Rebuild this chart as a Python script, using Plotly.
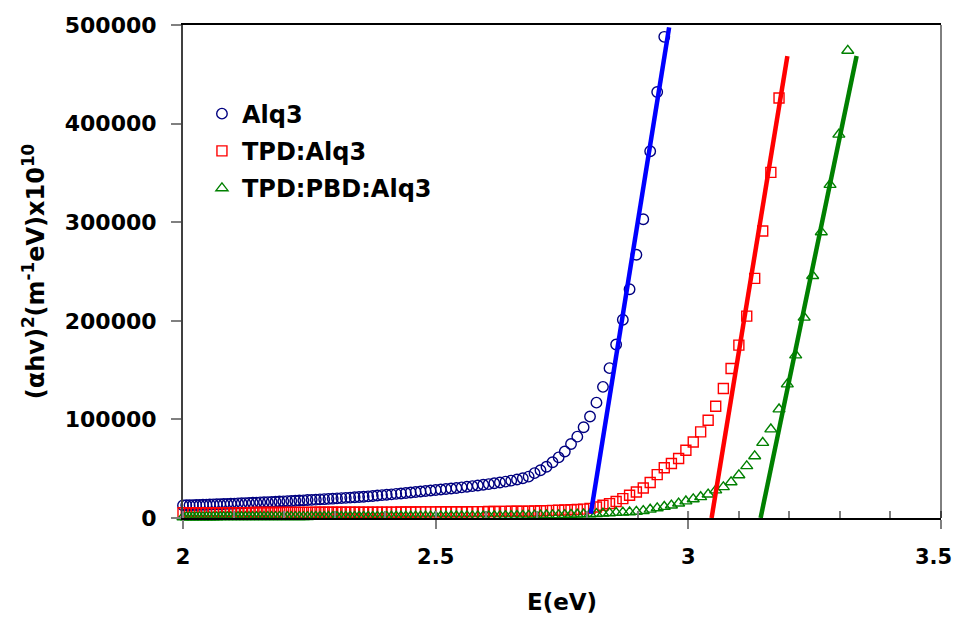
import plotly.graph_objects as go

# measurement grid: wavelength (nm), converted to photon energy E = 1240 / lambda
WAVELENGTH_NM = list(range(620, 372, -2))
ENERGY_EV = [1240.0 / w for w in WAVELENGTH_NM]

# (alpha h nu)^2 values, one per wavelength point
ALQ3 = [
    12800, 12900, 13000, 13100, 13200, 13300, 13400, 13500, 13700, 13800,
    13900, 14000, 14200, 14300, 14500, 14600, 14800, 14900, 15100, 15300,
    15400, 15600, 15800, 16000, 16100, 16300, 16500, 16700, 16900, 17100,
    17300, 17500, 17700, 17900, 18200, 18400, 18600, 18900, 19100, 19400,
    19600, 19900, 20200, 20400, 20700, 21000, 21300, 21600, 21900, 22300,
    22800, 23200, 23600, 24000, 24500, 24900, 25400, 25900, 26400, 26900,
    27400, 27900, 28400, 28900, 29400, 29900, 30500, 31100, 31700, 32300,
    33000, 33700, 34400, 35200, 36000, 36900, 37900, 39000, 40300, 42000,
    45500, 48500, 52000, 56500, 61500, 67500, 75000, 82500, 92000, 103000,
    117000, 133000, 152000, 176000, 201000, 232000, 267000, 303000, 372000, 432000,
    488000,
]
TPD_ALQ3 = [
    5300, 5300, 5300, 5300, 5300, 5400, 5400, 5400, 5400, 5400,
    5400, 5400, 5500, 5500, 5500, 5500, 5500, 5500, 5500, 5500,
    5600, 5600, 5600, 5600, 5600, 5600, 5600, 5600, 5700, 5700,
    5700, 5700, 5700, 5700, 5700, 5700, 5800, 5800, 5800, 5800,
    5800, 5800, 5800, 5800, 5900, 5900, 5900, 5900, 5900, 5900,
    6000, 6000, 6000, 6000, 6000, 6100, 6100, 6100, 6100, 6200,
    6200, 6200, 6200, 6300, 6300, 6300, 6400, 6400, 6400, 6500,
    6500, 6500, 6600, 6600, 6700, 6700, 6800, 6800, 6900, 7000,
    7100, 7300, 7500, 7700, 7900, 8100, 8300, 8600, 9000, 9800,
    11200, 12900, 14600, 16800, 19700, 23000, 26400, 30400, 36000, 44000,
    51000, 55200, 60300, 68700, 77100, 87300, 99100, 113400, 131300, 151600,
    175300, 204700, 243000, 291000, 350500, 426000,
]
TPD_PBD_ALQ3 = [
    900, 900, 900, 900, 900, 900, 950, 950, 950, 950,
    950, 1000, 1000, 1000, 1000, 1000, 1000, 1050, 1050, 1050,
    1050, 1050, 1100, 1100, 1100, 1100, 1100, 1150, 1150, 1150,
    1150, 1200, 1200, 1200, 1200, 1250, 1250, 1250, 1250, 1300,
    1300, 1300, 1300, 1350, 1350, 1350, 1400, 1400, 1400, 1400,
    1450, 1450, 1450, 1500, 1500, 1500, 1550, 1550, 1600, 1600,
    1600, 1650, 1650, 1700, 1700, 1750, 1750, 1800, 1850, 1850,
    1900, 1950, 2000, 2050, 2100, 2150, 2200, 2300, 2400, 2500,
    2600, 2700, 2800, 2900, 3000, 3200, 3400, 3600, 3800, 4000,
    4200, 4600, 5000, 5300, 5600, 5900, 6500, 7300, 8600, 10000,
    11400, 12800, 14800, 17000, 19100, 21300, 24000, 28100, 31400, 36400,
    43500, 52700, 62800, 76300, 90000, 110300, 135700, 165100, 203400, 245600,
    290000, 338000, 389000, 474000,
]

# linear fits (Tauc extrapolation), end points
ALQ3_FIT_E = [2.807, 2.962]
ALQ3_FIT_Y = [4500, 497700]
TPD_FIT_E = [3.046, 3.196]
TPD_FIT_Y = [0, 468500]
PBD_FIT_E = [3.143, 3.333]
PBD_FIT_Y = [0, 468500]

X_MAJOR = [2, 2.5, 3, 3.5]
X_LABELS = ['2', '2.5', '3', '3.5']
Y_TICKS = [0, 100000, 200000, 300000, 400000, 500000]

FONT = dict(family='DejaVu Sans', size=23, color='black', weight='bold')
TICK_FONT = dict(FONT, size=22)
XTICK_FONT = dict(FONT, size=21)
LEGEND_FONT = dict(FONT, size=24)
TICK_GRAY = '#808080'

fig = go.Figure()

series = [
    ('Alq3', ALQ3, 'circle-open', '#000080', 10.5),
    ('TPD:Alq3', TPD_ALQ3, 'square-open', '#ff0000', 10),
    ('TPD:PBD:Alq3', TPD_PBD_ALQ3, 'triangle-up-open', '#008000', 10.5),
]
for name, ys, symbol, color, size in series:
    fig.add_trace(go.Scatter(
        x=ENERGY_EV[:len(ys)], y=ys, mode='markers', name=name,
        legendgroup=name, cliponaxis=False,
        marker=dict(symbol=symbol, size=size, color=color,
                    line=dict(color=color, width=1.4)),
    ))

for xs, ys, color in [
    (ALQ3_FIT_E, ALQ3_FIT_Y, '#0000ff'),
    (TPD_FIT_E, TPD_FIT_Y, '#ff0000'),
    (PBD_FIT_E, PBD_FIT_Y, '#008000'),
]:
    fig.add_trace(go.Scatter(
        x=xs, y=ys, mode='lines', showlegend=False,
        line=dict(color=color, width=4.5),
    ))

# major x ticks cross the axis: inner half drawn as short shapes
shapes = [
    dict(type='line', xref='x', yref='y', x0=v, x1=v, ysizemode='pixel',
         yanchor=0, y0=0, y1=7, line=dict(color=TICK_GRAY, width=1.5))
    for v in X_MAJOR
]
# right frame
shapes.append(dict(type='line', xref='paper', yref='paper', x0=1, x1=1, y0=0, y1=1,
                   line=dict(color='black', width=1)))

# the last x label sits on the page edge; draw it nudged in so it is not cut
last_label = dict(x=X_MAJOR[-1], xref='x', y=0, yref='y', text=X_LABELS[-1],
                  showarrow=False, font=XTICK_FONT, xanchor='center', yanchor='middle',
                  xshift=-8, yshift=-39)

# the page body adds an 8px margin all round; keep the page inside the window
fig.update_layout(
    width=953, height=607,
    margin=dict(l=175, r=20, t=17, b=97),
    paper_bgcolor='white', plot_bgcolor='white',
    font=FONT,
    showlegend=True,
    legend=dict(x=0.025, y=0.865, xanchor='left', yanchor='top',
                bgcolor='rgba(0,0,0,0)', font=LEGEND_FONT, tracegroupgap=3),
    shapes=shapes,
    annotations=[last_label],
)
fig.update_xaxes(
    range=[2, 3.5], tickvals=X_MAJOR, ticktext=X_LABELS[:-1] + [''],
    automargin=False, ticklabelstandoff=10,
    showgrid=False, zeroline=False,
    showline=True, linecolor='black', linewidth=1.5, mirror=True,
    ticks='outside', ticklen=9, tickwidth=1.5, tickcolor=TICK_GRAY,
    minor=dict(dtick=0.1, ticks='inside', ticklen=7, tickwidth=1.5, tickcolor=TICK_GRAY),
    tickfont=XTICK_FONT,
    title=dict(text='E(eV)', font=FONT, standoff=28),
)
fig.update_yaxes(
    range=[0, 500000], tickvals=Y_TICKS, tickformat='d',
    automargin=False, ticklabelstandoff=10,
    showgrid=False, zeroline=False,
    showline=True, linecolor='#404040', linewidth=2,
    ticks='outside', ticklen=10, tickwidth=1.5, tickcolor=TICK_GRAY,
    tickfont=TICK_FONT,
    title=dict(text='(αhv)<sup>2</sup>(m<sup>-1</sup>eV)x10<sup>10</sup>',
               font=dict(FONT, size=24), standoff=13),
)

fig.write_html('out.html')
